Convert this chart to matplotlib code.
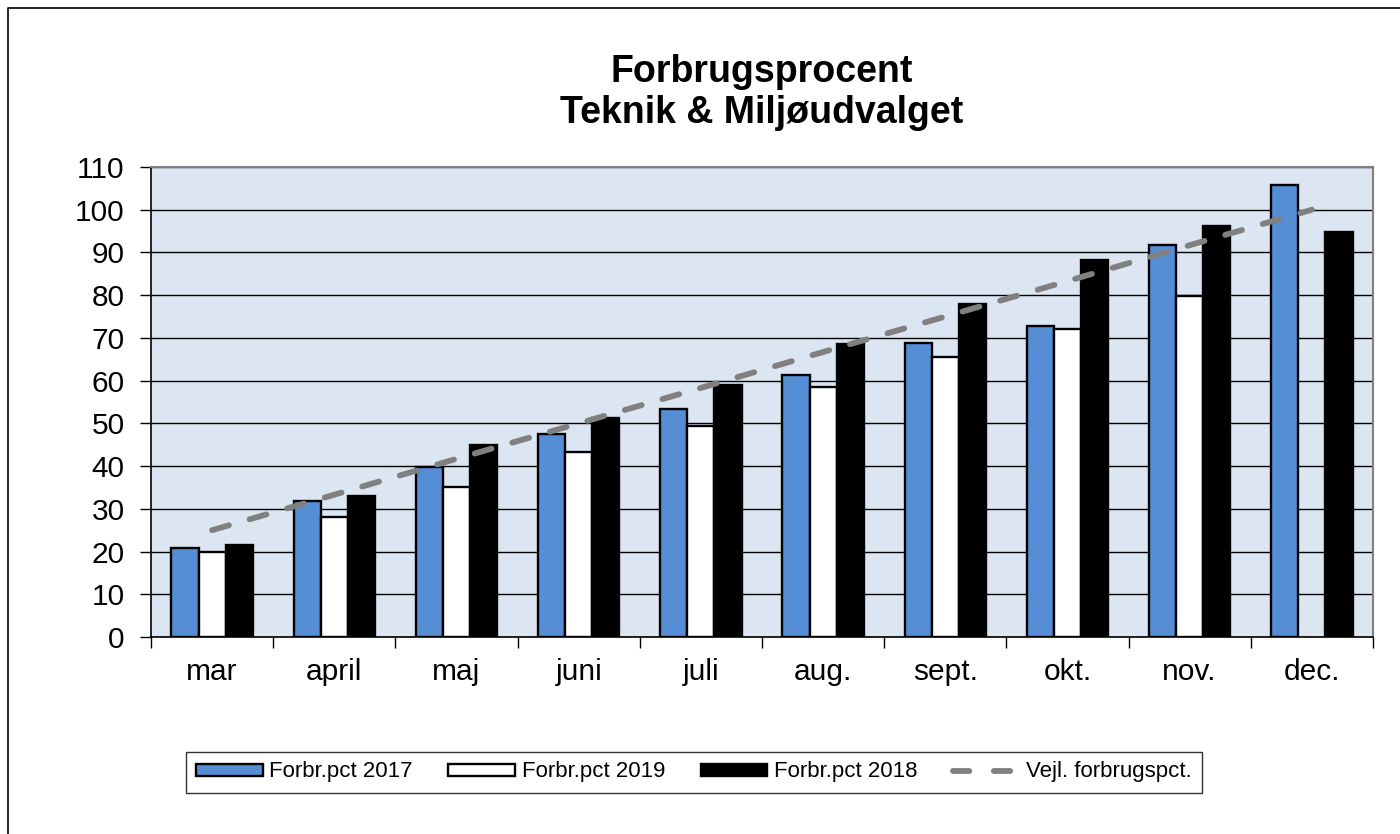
import matplotlib
matplotlib.use('Agg')
import matplotlib.pyplot as plt
import numpy as np
from matplotlib.lines import Line2D
from matplotlib.patches import Patch

plt.rcParams['font.family'] = ['Liberation Sans', 'DejaVu Sans']

# Data
months = ['mar', 'april', 'maj', 'juni', 'juli', 'aug.', 'sept.', 'okt.', 'nov.', 'dec.']
pct_2017 = [20.9, 31.9, 39.7, 47.4, 53.3, 61.3, 68.8, 72.8, 91.7, 105.7]
pct_2019 = [19.9, 28.2, 35.2, 43.2, 49.5, 58.4, 65.6, 72.0, 79.8, np.nan]
pct_2018 = [21.5, 33.0, 44.9, 51.2, 58.9, 68.5, 78.0, 88.2, 96.3, 94.9]
vejl = [25.0, 33.3, 41.7, 50.0, 58.3, 66.7, 75.0, 83.3, 91.7, 100.0]
yticks = list(range(0, 111, 10))

# Colors
BLUE = '#558ED5'
PLOT_BG = '#DCE6F2'
GRAY = '#808080'

W, H = 1400, 834
fig = plt.figure(figsize=(14, 8.34), dpi=100, facecolor='white')
ax = fig.add_axes([151 / W, 1 - 637 / H, (1373 - 151) / W, (637 - 167) / H])
ax.set_facecolor(PLOT_BG)

x = np.arange(len(months))
bw = 0.222
ax.bar(x - bw, pct_2017, bw, color=BLUE, edgecolor='black', linewidth=1.7, zorder=3)
ax.bar(x, pct_2019, bw, color='white', edgecolor='black', linewidth=1.7, zorder=3)
ax.bar(x + bw, pct_2018, bw, color='black', edgecolor='black', linewidth=1.7, zorder=3)
ax.plot(x, vejl, color=GRAY, linewidth=4.2, linestyle=(0, (3.0, 3.7)),
        dash_capstyle='round', zorder=4)

ax.set_xlim(-0.5, len(months) - 0.5)
ax.set_ylim(0, 110)
ax.set_yticks(yticks)
ax.yaxis.grid(True, color='black', linewidth=1.0, zorder=1)
ax.set_axisbelow(True)

# x: labels at centres, tick marks on the boundaries
ax.set_xticks(x)
ax.set_xticklabels(months)
ax.set_xticks(np.arange(-0.5, len(months), 1.0), minor=True)
ax.tick_params(axis='x', which='major', length=0, pad=15, labelsize=21.5)
ax.tick_params(axis='x', which='minor', direction='out', length=8, width=1, color='black')
ax.tick_params(axis='y', direction='out', length=8, width=1, pad=11, labelsize=21.5)

for s in ['left', 'bottom']:
    ax.spines[s].set_color('black')
    ax.spines[s].set_linewidth(1.2)
for s in ['top', 'right']:
    ax.spines[s].set_color(GRAY)
    ax.spines[s].set_linewidth(1.5)

# Title
fig.text(762 / W, 1 - 72 / H, 'Forbrugsprocent', ha='center', va='center',
         fontsize=27, fontweight='bold')
fig.text(762 / W, 1 - 113 / H, 'Teknik & Miljøudvalget', ha='center', va='center',
         fontsize=27, fontweight='bold')

# Legend
handles = [
    Patch(facecolor=BLUE, edgecolor='black', linewidth=1.7),
    Patch(facecolor='white', edgecolor='black', linewidth=1.7),
    Patch(facecolor='black', edgecolor='black', linewidth=1.7),
    Line2D([0], [0], color=GRAY, linewidth=4.2, linestyle=(0, (2.8, 4.2)),
           dash_capstyle='round'),
]
labels = ['Forbr.pct 2017', 'Forbr.pct 2019', 'Forbr.pct 2018', 'Vejl. forbrugspct.']
leg = fig.legend(handles, labels, loc='center', bbox_to_anchor=(694 / W, 1 - 772 / H),
                 ncol=4, fontsize=16, frameon=True, fancybox=False, shadow=False,
                 handlelength=3.0, handleheight=0.45, handletextpad=0.3,
                 columnspacing=1.6, borderpad=0.45)
leg.get_frame().set_edgecolor('black')
leg.get_frame().set_linewidth(1.0)

# Outer chart frame (left and top edges visible)
fig.add_artist(Line2D([8 / W, 8 / W, 1.0], [0.0, 1 - 8 / H, 1 - 8 / H],
                      transform=fig.transFigure, color='black', linewidth=1.2))

fig.savefig('out.png', dpi=100, facecolor='white')
plt.close()
